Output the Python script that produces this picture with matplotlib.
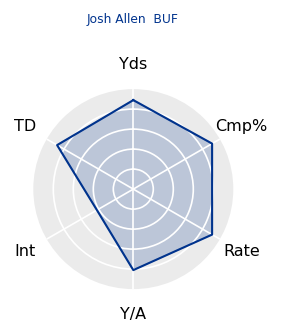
import numpy as np
import matplotlib
matplotlib.use("Agg")
import matplotlib.pyplot as plt

player = "Josh Allen  BUF"
stats = ["Yds", "Cmp%", "Rate", "Y/A", "Int", "TD"]
values = [89, 91, 91, 81, 42, 88]

team_color = "#00338D"

angles = np.linspace(0, 2 * np.pi, len(stats), endpoint=False)
closed_angles = np.append(angles, angles[0])
closed_values = values + values[:1]

fig = plt.figure(figsize=(2.81, 3.35), dpi=100)
ax = fig.add_axes([0.1185, 0.137, 200 / 281, 200 / 335], projection="polar")
ax.set_theta_offset(np.pi / 2)
ax.set_theta_direction(-1)

ax.set_facecolor("#ebebeb")
ax.spines["polar"].set_visible(False)
ax.set_ylim(0, 100)
ax.set_yticks([20, 40, 60, 80])
ax.set_yticklabels([])
ax.set_xticks(angles)
ax.set_xticklabels([])
ax.set_axisbelow(False)  # white grid shows over the fill
ax.grid(True, color="white", linewidth=1.2)
ax.tick_params(length=0)

ax.fill(closed_angles, closed_values, color=team_color, alpha=0.2, zorder=1)
ax.plot(closed_angles, closed_values, color=team_color, linewidth=1.5, zorder=3)

# stat names just outside the disc
for a, name in zip(angles, stats):
    ax.text(a, 125, name, ha="center", va="center", fontsize=11.5,
            color="black", clip_on=False)

fig.text(133 / 281, 1 - 20 / 335, player, ha="center", va="center",
         fontsize=8.8, color=team_color)

fig.savefig("out.png", dpi=100)
